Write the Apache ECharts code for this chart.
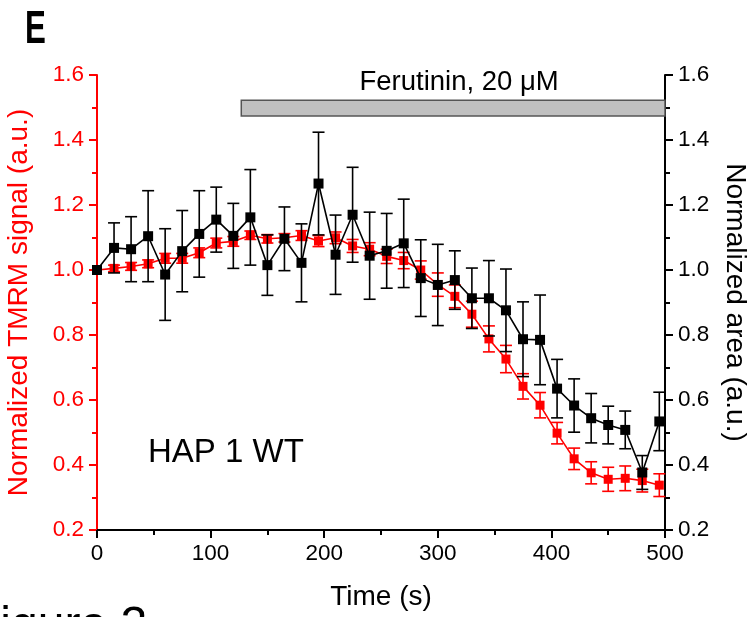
<!DOCTYPE html>
<html>
<head>
<meta charset="utf-8">
<script src="https://cdn.jsdelivr.net/npm/echarts@6/dist/echarts.min.js"></script>
<style>
html,body{margin:0;padding:0;background:#fff;}
#chart{width:750px;height:617px;}
</style>
</head>
<body>
<div id="chart"></div>
<script>
// Time points (s)
const times = [0,15,30,45,60,75,90,105,120,135,150,165,180,195,210,225,240,255,270,285,300,315,330,345,360,375,390,405,420,435,450,465,480,495];
// Normalized TMRM signal (red, left axis)
const tmrmValues = [1.000,1.005,1.011,1.019,1.036,1.036,1.053,1.083,1.088,1.107,1.096,1.099,1.106,1.089,1.099,1.074,1.064,1.042,1.029,1.000,0.955,0.919,0.864,0.788,0.726,0.642,0.584,0.498,0.419,0.376,0.356,0.359,0.352,0.338];
const tmrmErrors = [0,0.010,0.012,0.012,0.015,0.015,0.015,0.015,0.015,0.013,0.013,0.013,0.015,0.017,0.018,0.020,0.020,0.022,0.025,0.028,0.036,0.035,0.040,0.040,0.042,0.039,0.039,0.033,0.033,0.034,0.037,0.038,0.035,0.035];
// Normalized area (black, right axis)
const areaValues = [1.000,1.068,1.064,1.104,0.986,1.058,1.111,1.155,1.105,1.162,1.015,1.096,1.022,1.266,1.047,1.170,1.044,1.059,1.082,0.975,0.954,0.969,0.913,0.913,0.876,0.787,0.785,0.635,0.583,0.544,0.523,0.508,0.377,0.534];
const areaErrors = [0,0.077,0.100,0.140,0.141,0.125,0.133,0.100,0.100,0.147,0.093,0.098,0.120,0.158,0.122,0.146,0.134,0.115,0.136,0.118,0.125,0.090,0.093,0.116,0.127,0.115,0.138,0.090,0.082,0.076,0.058,0.058,0.052,0.090];
// Treatment bar (Ferutinin application)
const drugStart = 127, drugEnd = 500, drugLow = 1.474, drugHigh = 1.522;
const drugLabel = 'Ferutinin, 20 \u03BCM';
const xTicks = {min:0, max:500, interval:100};
const yTicks = {min:0.2, max:1.6, interval:0.2};

const FONT = "'Liberation Sans', Arial, sans-serif";
const RED = '#ff0000';

const tmrmData = times.map((t,i)=>[t,tmrmValues[i]]);
const areaData = times.map((t,i)=>[t,areaValues[i]]);
const tmrmErr = times.map((t,i)=>[t,tmrmValues[i],tmrmErrors[i]]);
const areaErr = times.map((t,i)=>[t,areaValues[i],areaErrors[i]]);

function errRenderer(color){
  return function(params, api){
    const x = api.value(0), y = api.value(1), e = api.value(2);
    if (!e) return null;
    const hi = api.coord([x, y+e]);
    const lo = api.coord([x, y-e]);
    const hw = 6;
    const st = {stroke: color, lineWidth: 1.6};
    return {type:'group', children:[
      {type:'line', shape:{x1:hi[0],y1:hi[1],x2:lo[0],y2:lo[1]}, style:st},
      {type:'line', shape:{x1:hi[0]-hw,y1:hi[1],x2:hi[0]+hw,y2:hi[1]}, style:st},
      {type:'line', shape:{x1:lo[0]-hw,y1:lo[1],x2:lo[0]+hw,y2:lo[1]}, style:st}
    ]};
  };
}

function yAxisCfg(pos, color, name, gap, rot){
  return {
    type:'value', position:pos, min:yTicks.min, max:yTicks.max, interval:yTicks.interval,
    name:name, nameLocation:'middle', nameGap:gap, nameRotate:rot,
    nameTextStyle:{color:color, fontSize:28, fontFamily:FONT},
    axisLine:{show:true, lineStyle:{color:color, width:2}},
    axisTick:{show:true, inside:false, length:8, lineStyle:{color:color, width:2}},
    minorTick:{show:true, splitNumber:2, length:5, lineStyle:{color:color, width:2}},
    axisLabel:{color:color, fontSize:22.5, fontFamily:FONT, margin:13, formatter:v=>v.toFixed(1)},
    splitLine:{show:false}
  };
}

const chart = echarts.init(document.getElementById('chart'), null, {renderer:'canvas'});
chart.setOption({
  animation:false,
  backgroundColor:'#fff',
  grid:{left:97, right:85, top:75, bottom:87, outerBoundsMode:'none', containLabel:false},
  xAxis:{
    type:'value', min:xTicks.min, max:xTicks.max, interval:xTicks.interval,
    name:'Time (s)', nameLocation:'middle', nameGap:53,
    nameTextStyle:{color:'#000', fontSize:28, fontFamily:FONT},
    axisLine:{show:true, onZero:false, lineStyle:{color:'#000', width:2}},
    axisTick:{show:true, length:8, lineStyle:{color:'#000', width:2}},
    minorTick:{show:true, splitNumber:2, length:5, lineStyle:{color:'#000', width:2}},
    axisLabel:{color:'#000', fontSize:22.5, fontFamily:FONT, margin:12},
    splitLine:{show:false}
  },
  yAxis:[
    yAxisCfg('left', RED, 'Normalized TMRM signal (a.u.)', 64, 90),
    yAxisCfg('right', '#000', 'Normalized area (a.u.)', 56, -90)
  ],
  series:[
    {type:'custom', name:'tmrmErr', yAxisIndex:0, data:tmrmErr, encode:{x:0,y:1}, renderItem:errRenderer(RED), z:2, silent:true},
    {type:'line', name:'TMRM', yAxisIndex:0, data:tmrmData, symbol:'rect', symbolSize:9, showSymbol:true,
      itemStyle:{color:RED}, lineStyle:{color:RED, width:1.6}, z:3},
    {type:'custom', name:'areaErr', yAxisIndex:1, data:areaErr, encode:{x:0,y:1}, renderItem:errRenderer('#000'), z:4, silent:true},
    {type:'line', name:'Area', yAxisIndex:1, data:areaData, symbol:'rect', symbolSize:10, showSymbol:true,
      itemStyle:{color:'#000'}, lineStyle:{color:'#000', width:1.6}, z:5,
      markArea:{silent:true,
        itemStyle:{color:'#c0c0c0', borderColor:'#555', borderWidth:1.5},
        label:{show:true, position:'top', distance:3, offset:[6,0], formatter:drugLabel, color:'#000', fontSize:27.5, fontFamily:FONT},
        data:[[{coord:[drugStart, drugHigh]}, {coord:[drugEnd, drugLow]}]]
      }}
  ],
  graphic:[
    {type:'text', x:25, y:7, scaleX:0.68, style:{text:'E', fontSize:46, fontWeight:'bold', fontFamily:FONT, fill:'#000'}},
    {type:'text', x:148, y:436, style:{text:'HAP 1 WT', fontSize:33, fontFamily:FONT, fill:'#000'}},
    {type:'text', x:-29, y:603, style:{text:'Figure 2', fontSize:48, fontFamily:FONT, fill:'#000'}}
  ]
});
</script>
</body>
</html>
